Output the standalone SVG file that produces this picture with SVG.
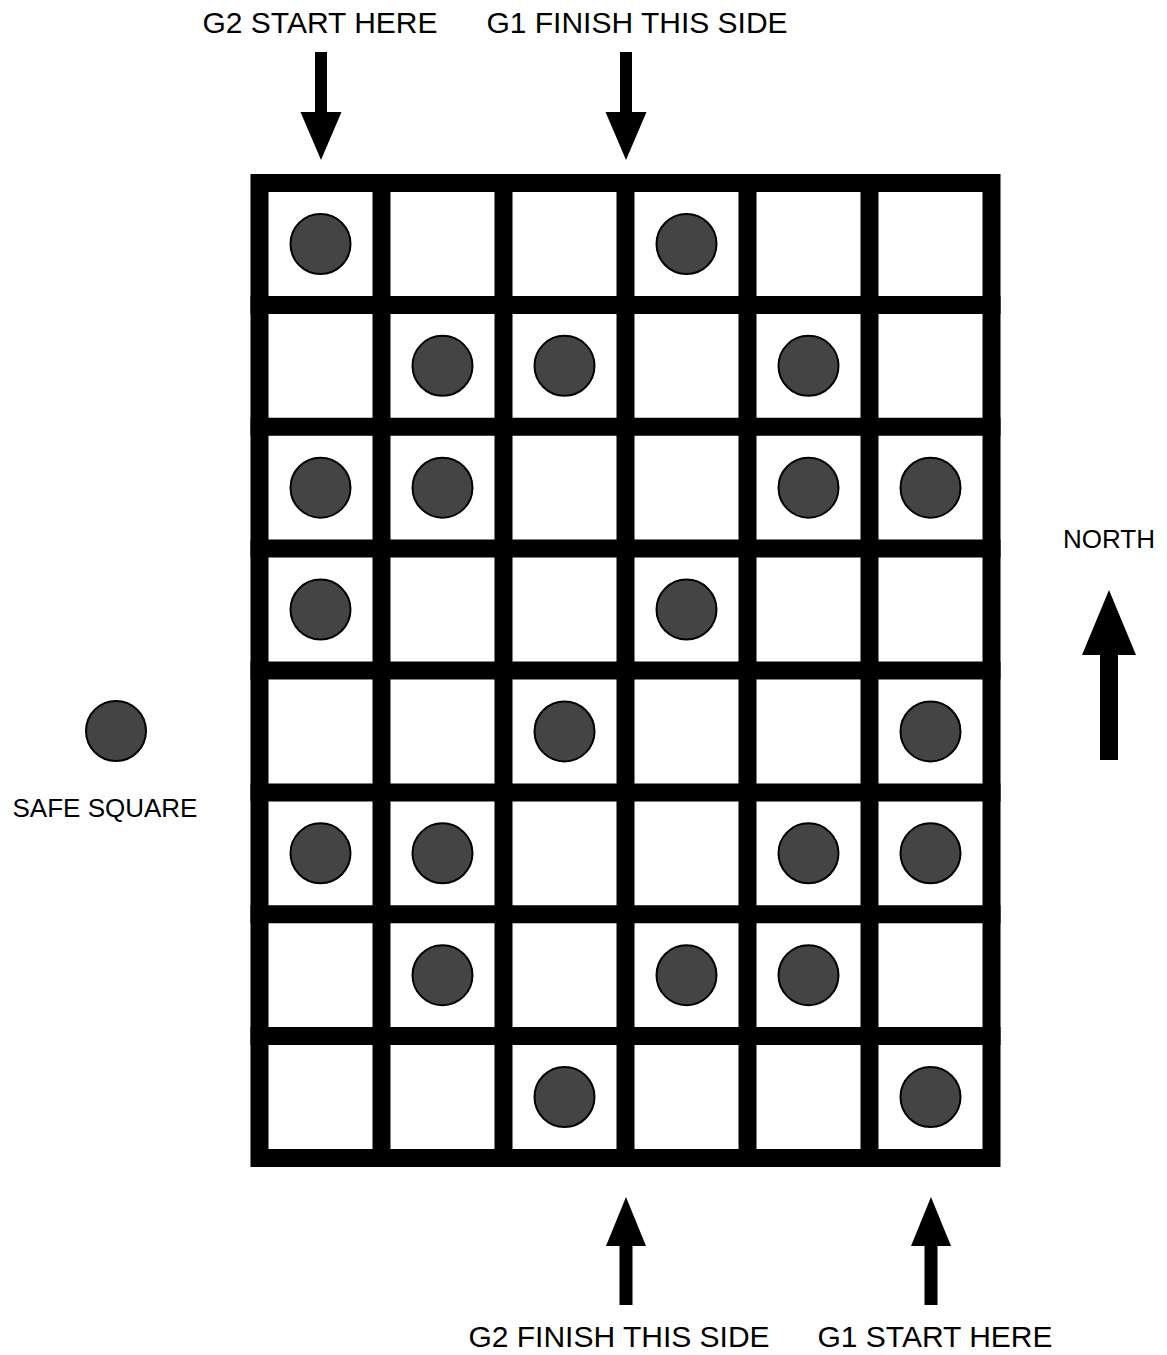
<svg xmlns="http://www.w3.org/2000/svg" width="1167" height="1355" viewBox="0 0 1167 1355">
<style>
.lbl{font-family:"Liberation Sans",Arial,Helvetica,sans-serif;fill:#000;}
.grid{fill:none;stroke:#000;stroke-width:18;stroke-linecap:square;}
.dot{fill:#444;stroke:#000;stroke-width:2;}
.arr{fill:#000;stroke:none;}
</style>
<defs>
<circle id="d" r="30" class="dot"/>
</defs>
<rect width="1167" height="1355" fill="#fff"/>
<g id="board">
<rect class="grid" x="259.5" y="183" width="732" height="975"/>
<path class="grid" d="M381.5 183V1158M503.5 183V1158M625.5 183V1158M747.5 183V1158M869.5 183V1158M259.5 304.9H991.5M259.5 426.8H991.5M259.5 548.6H991.5M259.5 670.5H991.5M259.5 792.4H991.5M259.5 914.3H991.5M259.5 1036.1H991.5"/>
</g>
<g id="safe-squares">
<use href="#d" x="320.5" y="244"/>
<use href="#d" x="686.5" y="244"/>
<use href="#d" x="442.5" y="365.8"/>
<use href="#d" x="564.5" y="365.8"/>
<use href="#d" x="808.5" y="365.8"/>
<use href="#d" x="320.5" y="487.7"/>
<use href="#d" x="442.5" y="487.7"/>
<use href="#d" x="808.5" y="487.7"/>
<use href="#d" x="930.5" y="487.7"/>
<use href="#d" x="320.5" y="609.6"/>
<use href="#d" x="686.5" y="609.6"/>
<use href="#d" x="564.5" y="731.4"/>
<use href="#d" x="930.5" y="731.4"/>
<use href="#d" x="320.5" y="853.3"/>
<use href="#d" x="442.5" y="853.3"/>
<use href="#d" x="808.5" y="853.3"/>
<use href="#d" x="930.5" y="853.3"/>
<use href="#d" x="442.5" y="975.2"/>
<use href="#d" x="686.5" y="975.2"/>
<use href="#d" x="808.5" y="975.2"/>
<use href="#d" x="564.5" y="1097"/>
<use href="#d" x="930.5" y="1097"/>
</g>
<g id="legend">
<use href="#d" x="116" y="731"/>
<text class="lbl" x="105" y="817" font-size="26" text-anchor="middle">SAFE SQUARE</text>
</g>
<g id="north">
<text class="lbl" x="1109" y="548" font-size="26" text-anchor="middle">NORTH</text>
</g>
<g id="labels">
<text class="lbl" x="320" y="33" font-size="30" text-anchor="middle">G2 START HERE</text>
<text class="lbl" x="637" y="33" font-size="30" text-anchor="middle">G1 FINISH THIS SIDE</text>
<text class="lbl" x="619" y="1347" font-size="30" text-anchor="middle">G2 FINISH THIS SIDE</text>
<text class="lbl" x="935" y="1347" font-size="30" text-anchor="middle">G1 START HERE</text>
</g>
<g id="connectors">
<path class="arr" d="M315 52H327V112H341.5L321 160L300.5 112H315Z"/>
<path class="arr" d="M620 52H632V112H646.5L626 160L605.5 112H620Z"/>
<path class="arr" d="M619.5 1305H632.5V1246H646L626 1197L606 1246H619.5Z"/>
<path class="arr" d="M924.5 1305H937.5V1246H951L931 1197L911 1246H924.5Z"/>
<path class="arr" d="M1100 760H1118V655H1136L1109 590L1082 655H1100Z"/>
</g>
</svg>
